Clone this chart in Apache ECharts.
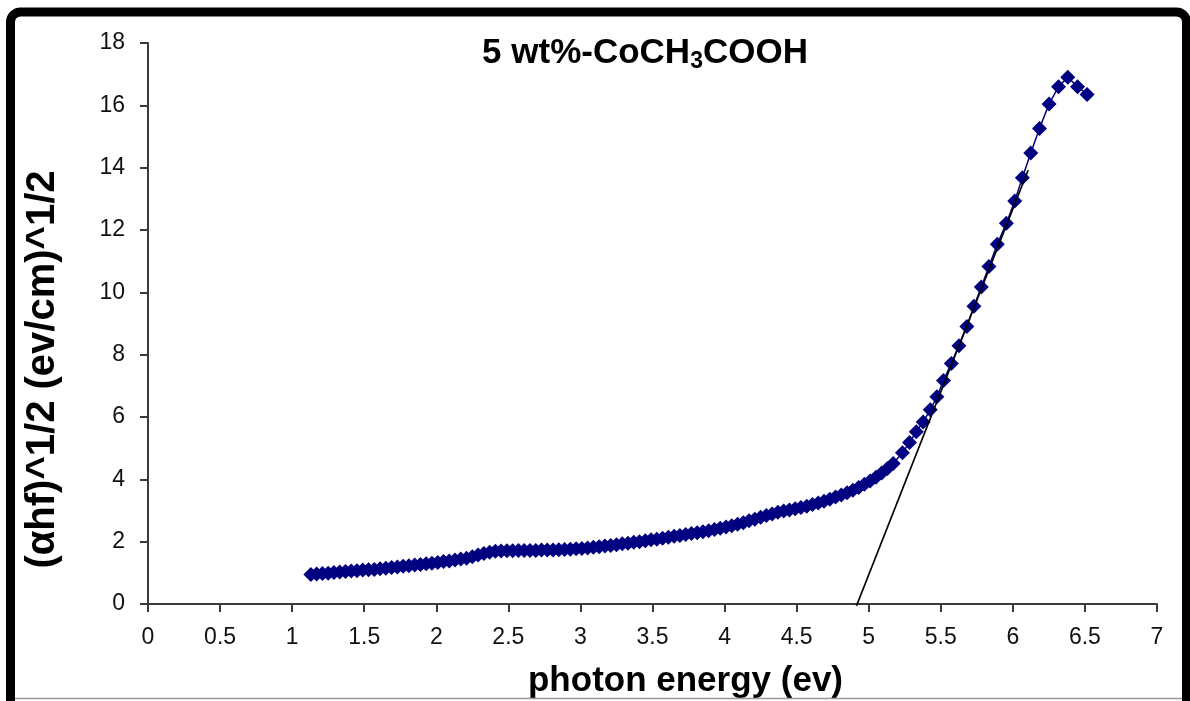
<!DOCTYPE html>
<html>
<head>
<meta charset="utf-8">
<script src="https://cdn.jsdelivr.net/npm/echarts@6/dist/echarts.min.js"></script>
<style>
html,body{margin:0;padding:0;background:#fff;}
#chart{width:1190px;height:701px;}
</style>
</head>
<body>
<div id="chart"></div>
<script>
// photon energy (eV)
const energy = [
1.13,1.17,1.21,1.25,1.29,1.33,1.37,1.41,1.45,1.49,
1.53,1.57,1.61,1.65,1.69,1.73,1.77,1.81,1.85,1.89,
1.93,1.97,2.01,2.05,2.09,2.13,2.17,2.21,2.25,2.29,
2.33,2.37,2.41,2.45,2.49,2.53,2.57,2.61,2.65,2.69,
2.73,2.77,2.81,2.85,2.89,2.93,2.97,3.01,3.05,3.09,
3.13,3.17,3.21,3.25,3.29,3.33,3.37,3.41,3.45,3.49,
3.53,3.57,3.61,3.65,3.69,3.73,3.77,3.81,3.85,3.89,
3.93,3.97,4.01,4.05,4.09,4.13,4.17,4.21,4.25,4.29,
4.33,4.37,4.41,4.45,4.49,4.53,4.57,4.61,4.65,4.69,
4.73,4.77,4.81,4.85,4.89,4.93,4.97,5.01,5.05,5.09,
5.13,5.17,
5.234,5.283,5.330,5.378,5.427,5.473,5.519,5.573,5.626,5.681,
5.730,5.781,5.834,5.892,5.955,6.013,6.066,6.124,6.185,6.251,
6.317,6.381,6.449,6.515
];
// (ahf)^1/2 (ev/cm)^1/2
const absorption = [
0.95,0.96,0.98,0.99,1.01,1.03,1.04,1.06,1.07,1.09,
1.10,1.11,1.13,1.15,1.17,1.19,1.21,1.23,1.25,1.27,
1.29,1.31,1.33,1.36,1.38,1.41,1.44,1.47,1.52,1.57,
1.62,1.66,1.69,1.70,1.71,1.71,1.72,1.72,1.72,1.72,
1.73,1.73,1.73,1.74,1.75,1.76,1.77,1.78,1.80,1.82,
1.84,1.86,1.88,1.90,1.93,1.95,1.98,2.00,2.03,2.06,
2.08,2.11,2.14,2.17,2.20,2.23,2.26,2.29,2.32,2.35,
2.39,2.43,2.47,2.51,2.56,2.61,2.67,2.72,2.78,2.84,
2.89,2.94,2.98,3.02,3.06,3.10,3.14,3.19,3.24,3.30,
3.36,3.43,3.50,3.57,3.65,3.74,3.84,3.95,4.07,4.20,
4.35,4.51,
4.85,5.18,5.53,5.84,6.23,6.65,7.17,7.72,8.29,8.90,
9.55,10.17,10.83,11.54,12.22,12.93,13.68,14.47,15.26,16.04,
16.60,16.90,16.60,16.35
];
// linear fit (band-gap extrapolation)
const fitEnergy = [4.915, 6.106];
const fitValue = [-0.06, 13.92];

const xMin = 0, xMax = 7, xStep = 0.5;
const yMin = 0, yMax = 18, yStep = 2;

const FONT = '"Liberation Sans", Arial, sans-serif';

const chart = echarts.init(document.getElementById('chart'), null, {renderer: 'canvas'});
const mainData = energy.map((e, i) => [e, absorption[i]]);
const fitData = fitEnergy.map((e, i) => [e, fitValue[i]]);

chart.setOption({
  animation: false,
  backgroundColor: '#fff',
  title: {
    text: '5 wt%-CoCH{s|3}COOH',
    left: 640,
    top: 28,
    textAlign: 'center',
    textStyle: {
      fontFamily: FONT, fontSize: 35, fontWeight: 'bold', color: '#000',
      lineHeight: 40,
      rich: {
        s: {fontFamily: FONT, fontSize: 23, fontWeight: 'bold', color: '#000', lineHeight: 23, verticalAlign: 'bottom'}
      }
    }
  },
  grid: {left: 148, top: 43, width: 1009, height: 561, containLabel: false, outerBoundsMode: 'none'},
  xAxis: {
    type: 'value', min: xMin, max: xMax, interval: xStep,
    name: 'photon energy (ev)', nameLocation: 'middle', nameGap: 60, nameMoveOverlap: false,
    nameTextStyle: {fontFamily: FONT, fontSize: 35, fontWeight: 'bold', color: '#000', padding: [0, 0, 0, 66]},
    axisLine: {lineStyle: {color: '#3a3a3a', width: 2}},
    axisTick: {length: 8, lineStyle: {color: '#3a3a3a', width: 2}},
    axisLabel: {fontFamily: FONT, fontSize: 23, color: '#111', margin: 22},
    splitLine: {show: false}
  },
  yAxis: {
    type: 'value', min: yMin, max: yMax, interval: yStep,
    name: '(\u03b1hf)^1/2 (ev/cm)^1/2', nameLocation: 'middle', nameGap: 85, nameRotate: 90, nameMoveOverlap: false,
    nameTextStyle: {fontFamily: FONT, fontSize: 40, fontWeight: 'bold', color: '#000', padding: [0, 92, 0, 0]},
    axisLine: {lineStyle: {color: '#3a3a3a', width: 2}},
    axisTick: {length: 8, lineStyle: {color: '#3a3a3a', width: 2}},
    axisLabel: {fontFamily: FONT, fontSize: 23, color: '#111', margin: 23},
    splitLine: {show: false}
  },
  series: [
    {
      type: 'line', data: mainData, symbol: 'diamond', symbolSize: 15, showSymbol: true,
      itemStyle: {color: '#000080'}, lineStyle: {color: '#000080', width: 1.5},
      z: 2
    },
    {
      type: 'line', data: fitData, symbol: 'none', clip: false,
      lineStyle: {color: '#000', width: 1.6}, z: 3
    }
  ],
  graphic: [
    {type: 'rect', silent: true, z: 100,
     shape: {x: 10.5, y: 12, width: 1176, height: 740, r: 10},
     style: {fill: 'none', stroke: '#000', lineWidth: 9}},
    {type: 'line', silent: true, z: 99,
     shape: {x1: 15, y1: 698.5, x2: 1190, y2: 698.5},
     style: {stroke: '#999', lineWidth: 1.5}}
  ]
});
</script>
</body>
</html>
